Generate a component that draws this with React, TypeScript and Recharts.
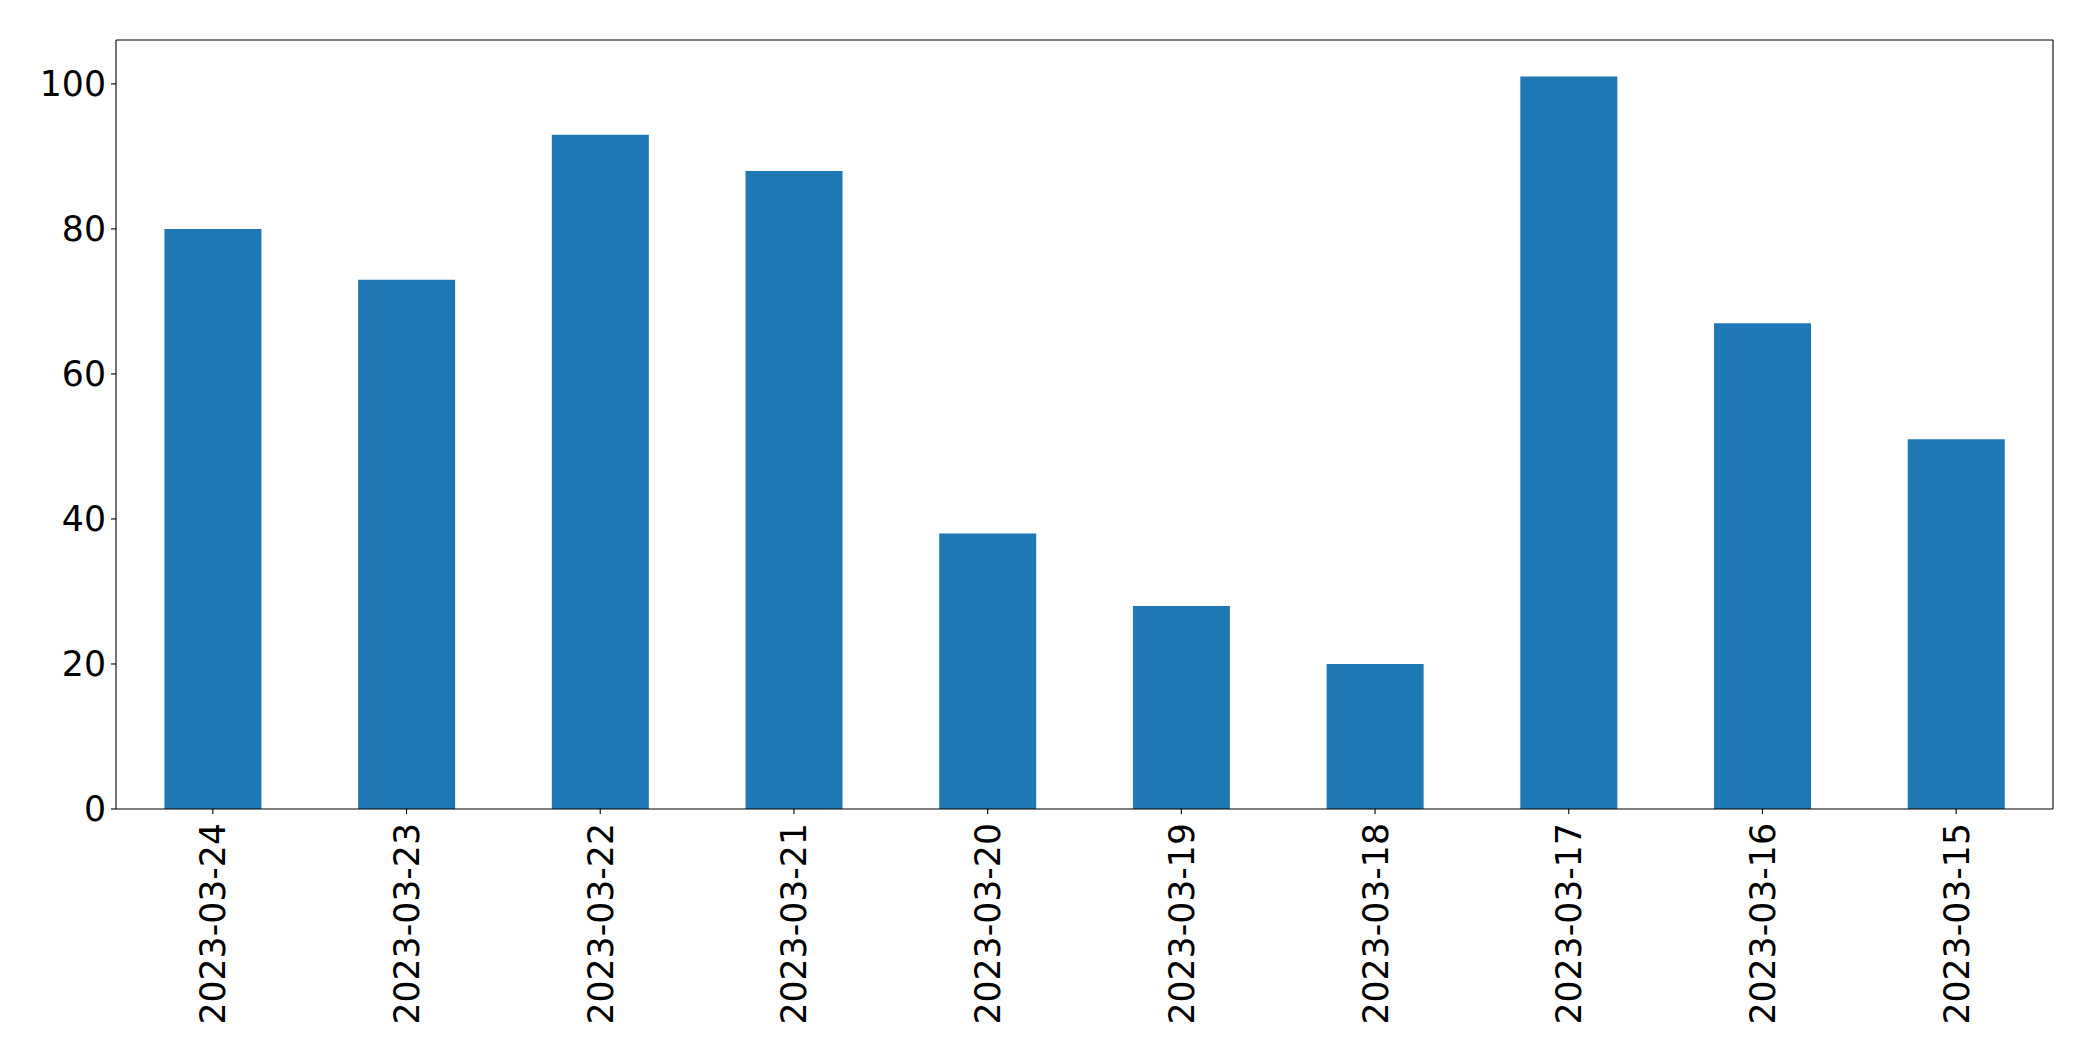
import React from 'react';
import { BarChart, Bar, XAxis, YAxis } from 'recharts';

const categories = ['2023-03-24', '2023-03-23', '2023-03-22', '2023-03-21', '2023-03-20', '2023-03-19', '2023-03-18', '2023-03-17', '2023-03-16', '2023-03-15'];
const values = [80, 73, 93, 88, 38, 28, 20, 101, 67, 51];
const yTicks = [0, 20, 40, 60, 80, 100];

const data = categories.map((c, i) => ({ date: c, value: values[i] }));

const FONT = 'DejaVu Sans';
const FS = 34.7;

const XTick = (props: any) => {
  const { x, y, payload } = props;
  return (
    <g transform={`translate(${x},${y + 4}) rotate(-90)`}>
      <text x={0} y={0} dy="0.36em" textAnchor="end" fontFamily={FONT} fontSize={FS} fill="#000">
        {payload.value}
      </text>
    </g>
  );
};

export default function App() {
  return (
    <div style={{ position: 'absolute', left: 0, top: 0, background: '#fff' }}>
      <BarChart
        width={2093}
        height={1061}
        data={data}
        margin={{ top: 39, right: 39, left: 0, bottom: 0 }}
        barCategoryGap="25%"
      >
        <XAxis
          dataKey="date"
          height={252}
          interval={0}
          tick={<XTick />}
          tickSize={5}
          tickMargin={5}
          stroke="#000"
          strokeWidth={1.1}
          tickLine={{ stroke: '#000', strokeWidth: 1.1 }}
        />
        <XAxis xAxisId="top" dataKey="date" orientation="top" height={1} tick={false} tickLine={false} axisLine={{ stroke: '#000', strokeWidth: 1.1 }} />
        <YAxis
          width={116}
          domain={[0, 106.05]}
          ticks={yTicks}
          type="number"
          allowDataOverflow
          tickSize={5}
          tickMargin={5}
          stroke="#000"
          strokeWidth={1.1}
          tick={{ fontFamily: FONT, fontSize: FS, fill: '#000' }}
          tickLine={{ stroke: '#000', strokeWidth: 1.1 }}
        />
        <YAxis yAxisId="right" orientation="right" width={1} tick={false} tickLine={false} axisLine={{ stroke: '#000', strokeWidth: 1.1 }} />
        <Bar dataKey="value" fill="#1f77b4" isAnimationActive={false} />
      </BarChart>
    </div>
  );
}
